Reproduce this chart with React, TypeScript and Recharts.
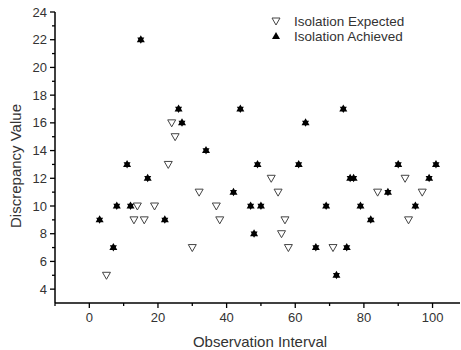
import React from 'react';
import { ScatterChart, Scatter, XAxis, YAxis } from 'recharts';

const expectedX = [5, 13, 14, 16, 19, 23, 24, 25, 30, 32, 37, 38, 53, 55, 56, 57, 58, 71, 84, 92, 93, 97];
const expectedY = [5, 9, 10, 9, 10, 13, 16, 15, 7, 11, 10, 9, 12, 11, 8, 9, 7, 7, 11, 12, 9, 11];

const achievedX = [3, 7, 8, 11, 12, 15, 17, 22, 26, 27, 34, 42, 44, 47, 48, 49, 50, 61, 63, 66, 69, 72, 74, 75, 76, 77, 79, 82, 87, 90, 95, 99, 101];
const achievedY = [9, 7, 10, 13, 10, 22, 12, 9, 17, 16, 14, 11, 17, 10, 8, 13, 10, 13, 16, 7, 10, 5, 17, 7, 12, 12, 10, 9, 11, 13, 10, 12, 13];

const xTicks = [-10, 0, 10, 20, 30, 40, 50, 60, 70, 80, 90, 100];
const yTicks = [4, 5, 6, 7, 8, 9, 10, 11, 12, 13, 14, 15, 16, 17, 18, 19, 20, 21, 22, 23, 24];

const expected = expectedX.map((x, i) => ({ x, y: expectedY[i] }));
const achieved = achievedX.map((x, i) => ({ x, y: achievedY[i] }));

const TEXT = '#333';

const DownTriangle = ({ cx, cy }: any) => (
  <polygon
    points={`${cx - 4},${cy - 3} ${cx + 4},${cy - 3} ${cx},${cy + 4}`}
    fill="#fff"
    stroke="#444"
    strokeWidth={1}
  />
);

const StarMark = ({ cx, cy }: any) => (
  <g fill="#000">
    <polygon points={`${cx},${cy - 4.5} ${cx + 4},${cy + 2.5} ${cx - 4},${cy + 2.5}`} />
    <polygon points={`${cx},${cy + 4} ${cx + 3.5},${cy - 2.2} ${cx - 3.5},${cy - 2.2}`} />
  </g>
);

const XTick = ({ x, y, payload }: any) => {
  const v = payload.value;
  const major = v % 20 === 0;
  return (
    <g>
      <line x1={x} x2={x} y1={y} y2={y + (major ? 5 : 3)} stroke="#000" strokeWidth={1.3} />
      {major && (
        <text x={x} y={y + 19} textAnchor="middle" fontSize={13} fill={TEXT}>
          {v}
        </text>
      )}
    </g>
  );
};

const YTick = ({ x, y, payload }: any) => {
  const v = payload.value;
  const major = v % 2 === 0;
  return (
    <g>
      <line x1={x - (major ? 5 : 3)} x2={x} y1={y} y2={y} stroke="#000" strokeWidth={1.3} />
      {major && (
        <text x={x - 8} y={y + 4.5} textAnchor="end" fontSize={13} fill={TEXT}>
          {v}
        </text>
      )}
    </g>
  );
};

// legend sits over the plot, drawn outside recharts so it takes no room
const LegendBox = () => (
  <div
    style={{
      position: 'absolute',
      left: 270,
      top: 14,
      fontSize: 13.5,
      color: TEXT,
      lineHeight: '15px',
    }}
  >
    <div style={{ display: 'flex', alignItems: 'center', height: 15 }}>
      <svg width={24} height={15}>
        <DownTriangle cx={6} cy={7} />
      </svg>
      <span>Isolation Expected</span>
    </div>
    <div style={{ display: 'flex', alignItems: 'center', height: 15 }}>
      <svg width={24} height={15}>
        <polygon points="6,3 10,10 2,10" fill="#000" />
      </svg>
      <span>Isolation Achieved</span>
    </div>
  </div>
);

export default function App() {
  return (
    <div
      style={{
        position: 'absolute',
        left: 0,
        top: 0,
        width: 461,
        height: 350,
        background: '#fff',
        fontFamily: 'Arial, "Liberation Sans", sans-serif',
      }}
    >
      <ScatterChart width={461} height={350} margin={{ top: 12, right: 1, left: 0, bottom: 0 }}>
        <XAxis
          type="number"
          dataKey="x"
          domain={[-10, 108]}
          ticks={xTicks}
          interval={0}
          allowDataOverflow
          axisLine={{ stroke: '#000', strokeWidth: 1.5 }}
          tickLine={false}
          tickSize={0}
          tickMargin={0}
          tick={<XTick />}
          height={47}
          label={() => (
            <text x={260} y={347} textAnchor="middle" fontSize={15} fill={TEXT}>
              Observation Interval
            </text>
          )}
        />
        <YAxis
          type="number"
          dataKey="y"
          domain={[3, 24]}
          ticks={yTicks}
          interval={0}
          allowDataOverflow
          axisLine={{ stroke: '#000', strokeWidth: 1.5 }}
          tickLine={false}
          tickSize={0}
          tickMargin={0}
          tick={<YTick />}
          width={55}
          label={() => (
            <text
              x={21}
              y={166}
              textAnchor="middle"
              fontSize={15}
              fill={TEXT}
              transform="rotate(-90, 21, 166)"
            >
              Discrepancy Value
            </text>
          )}
        />
        <Scatter
          name="Isolation Expected"
          data={expected}
          shape={<DownTriangle />}
          isAnimationActive={false}
        />
        <Scatter
          name="Isolation Achieved"
          data={achieved}
          shape={<StarMark />}
          isAnimationActive={false}
        />
      </ScatterChart>
      <LegendBox />
    </div>
  );
}
